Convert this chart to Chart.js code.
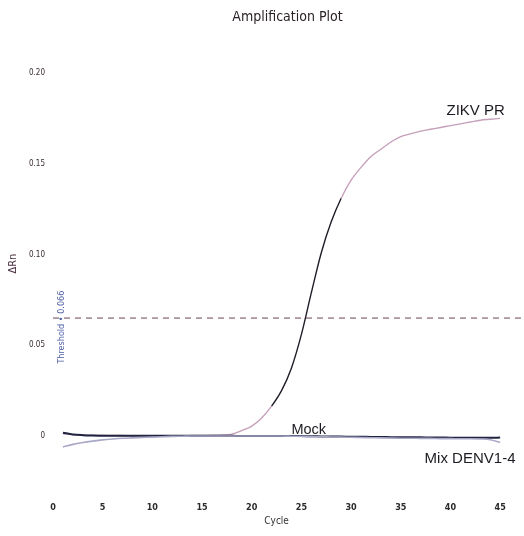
<!DOCTYPE html>
<html>
<head>
<meta charset="utf-8">
<script src="https://cdn.jsdelivr.net/npm/chart.js@4/dist/chart.umd.min.js"></script>
<style>
  html, body { margin: 0; padding: 0; background: #ffffff; }
  #wrap { width: 524px; height: 536px; position: relative; }
</style>
</head>
<body>
<div id="wrap"><canvas id="c" width="524" height="536"></canvas></div>
<script>
const chartTitle = "Amplification Plot";
const xTitle = "Cycle";
const yTitle = "ΔRn";
const thresholdLabel = "Threshold • 0.066";
const thresholdValue = 0.065;

const cycles = [1,2,3,4,5,6,7,8,9,10,11,12,13,14,15,16,17,18,19,20,21,22,23,24,25,26,27,28,29,30,31,32,33,34,35,36,37,38,39,40,41,42,43,44,45];

const zikvPR = [0.0012,0.0008,0.0006,0.0005,0.0004,0.0003,0.0003,0.0002,0.0002,0.0002,0.0002,0.0002,0.0002,0.0003,0.0003,0.0004,0.0006,0.0010,0.0030,0.0055,0.0100,0.0165,0.0250,0.0375,0.0560,0.0790,0.1010,0.1180,0.1310,0.1410,0.1480,0.1540,0.1580,0.1620,0.1650,0.1665,0.1680,0.1690,0.1700,0.1710,0.1720,0.1730,0.1740,0.1745,0.1750];

const mock = [0.0018,0.0009,0.0005,0.0003,0.0002,0.0002,0.0002,0.0001,0.0001,0.0001,0.0001,0.0001,0.0001,0.0001,0.0001,0.0001,0.0001,0.0001,0.0000,0.0000,0.0000,0.0000,0.0000,0.0000,0.0000,-0.0001,-0.0002,-0.0003,-0.0003,-0.0004,-0.0004,-0.0005,-0.0005,-0.0006,-0.0006,-0.0007,-0.0007,-0.0008,-0.0008,-0.0009,-0.0009,-0.0010,-0.0010,-0.0010,-0.0008];

const mixDENV = [-0.0060,-0.0046,-0.0036,-0.0028,-0.0021,-0.0016,-0.0012,-0.0010,-0.0008,-0.0006,-0.0004,-0.0002,-0.0001,0.0000,0.0000,0.0000,0.0000,0.0000,0.0000,0.0000,0.0000,0.0000,0.0000,-0.0001,-0.0002,-0.0003,-0.0004,-0.0005,-0.0006,-0.0007,-0.0008,-0.0009,-0.0010,-0.0011,-0.0012,-0.0012,-0.0013,-0.0013,-0.0014,-0.0014,-0.0015,-0.0015,-0.0016,-0.0020,-0.0035];

const xTicks = [0,5,10,15,20,25,30,35,40,45];
const yTicks = [0,0.05,0.10,0.15,0.20];
const yTickLabels = ["0","0.05","0.10","0.15","0.20"];
const seriesNames = ["ZIKV PR","Mock","Mix DENV1-4"];

function toXY(xs, ys) { return xs.map((x, i) => ({x: x, y: ys[i]})); }

const overlay = {
  id: 'overlay',
  afterDraw(chart) {
    const ctx = chart.ctx;
    const a = chart.chartArea;
    const xs = chart.scales.x, ys = chart.scales.y;
    ctx.save();
    // title
    ctx.fillStyle = '#2a2228';
    ctx.font = '14px "DejaVu Sans Condensed", "Liberation Sans Narrow", sans-serif';
    ctx.textAlign = 'center';
    ctx.textBaseline = 'middle';
    ctx.fillText(chartTitle, (a.left + a.right) / 2, 17);
    // x title
    ctx.font = '10px "DejaVu Sans Condensed", sans-serif';
    ctx.fillStyle = '#333';
    ctx.fillText(xTitle, xs.getPixelForValue(22.5), 521);
    // y title
    ctx.save();
    ctx.translate(13, ys.getPixelForValue(0.095));
    ctx.rotate(-Math.PI / 2);
    ctx.font = '11px "DejaVu Sans Condensed", sans-serif';
    ctx.fillStyle = '#4a3040';
    ctx.fillText(yTitle, 0, 0);
    ctx.restore();
    // threshold label (vertical, blue)
    ctx.save();
    ctx.translate(xs.getPixelForValue(0.9), ys.getPixelForValue(0.06));
    ctx.rotate(-Math.PI / 2);
    ctx.font = '9px "DejaVu Sans Condensed", sans-serif';
    ctx.fillStyle = '#5060a8';
    ctx.fillText(thresholdLabel, 0, 0);
    ctx.restore();
    // series labels
    ctx.font = '15px "Liberation Sans", Arial, sans-serif';
    ctx.fillStyle = '#1e1a22';
    ctx.textAlign = 'left';
    ctx.fillText(seriesNames[0], xs.getPixelForValue(39.6), ys.getPixelForValue(0.179));
    ctx.font = '14.5px "Liberation Sans", Arial, sans-serif';
    ctx.fillText(seriesNames[1], xs.getPixelForValue(24.0), ys.getPixelForValue(0.0035));
    ctx.font = '15px "Liberation Sans", Arial, sans-serif';
    ctx.fillText(seriesNames[2], xs.getPixelForValue(37.4), ys.getPixelForValue(-0.0125));
    ctx.restore();
  }
};

const ctx = document.getElementById('c').getContext('2d');
new Chart(ctx, {
  type: 'line',
  data: {
    datasets: [
      {
        label: 'Threshold',
        data: [{x: 0, y: thresholdValue}, {x: 47.2, y: thresholdValue}],
        borderColor: '#6a4450',
        borderWidth: 1,
        borderDash: [6, 5],
        pointRadius: 0,
        tension: 0
      },
      {
        label: seriesNames[2],
        data: toXY(cycles, mixDENV),
        borderColor: '#a9a8c6',
        borderWidth: 1.6,
        pointRadius: 0,
        cubicInterpolationMode: 'monotone'
      },
      {
        label: seriesNames[1],
        data: toXY(cycles, mock),
        borderColor: '#1f2340',
        borderWidth: 2,
        pointRadius: 0,
        cubicInterpolationMode: 'monotone'
      },
      {
        label: seriesNames[0],
        data: toXY(cycles, zikvPR),
        borderColor: '#2a2430',
        borderWidth: 1.4,
        pointRadius: 0,
        cubicInterpolationMode: 'monotone',
        segment: {
          borderColor: c => {
            const y0 = c.p0.parsed.y, y1 = c.p1.parsed.y;
            if (y1 > 0.135 || y0 < 0.012) return '#c6a0ba';
            return '#221c28';
          }
        }
      }
    ]
  },
  options: {
    responsive: false,
    animation: false,
    events: [],
    layout: { padding: { top: 73, right: 2, left: 0, bottom: 0 } },
    plugins: { legend: { display: false }, tooltip: { enabled: false }, title: { display: false } },
    scales: {
      x: {
        type: 'linear',
        min: 0,
        max: 47.2,
        grid: { display: false, drawTicks: false },
        border: { display: false },
        afterBuildTicks: s => { s.ticks = xTicks.map(v => ({value: v})); },
        afterFit: s => { s.height = 45.5; },
        ticks: {
          padding: 12,
          color: '#2a2a2a',
          font: { size: 9, family: '"DejaVu Sans Condensed", sans-serif', weight: 'bold' },
          maxRotation: 0,
          callback: v => String(v)
        }
      },
      y: {
        type: 'linear',
        min: -0.03,
        max: 0.20,
        grid: { display: false, drawTicks: false },
        border: { display: false },
        afterBuildTicks: s => { s.ticks = yTicks.map(v => ({value: v})); },
        afterFit: s => { s.width = 53; },
        ticks: {
          padding: 8,
          color: '#3a2a35',
          font: { size: 8, family: '"DejaVu Sans Condensed", sans-serif' },
          callback: v => {
            const i = yTicks.findIndex(t => Math.abs(t - v) < 1e-9);
            return i >= 0 ? yTickLabels[i] : '';
          }
        }
      }
    }
  },
  plugins: [overlay]
});
</script>
</body>
</html>
